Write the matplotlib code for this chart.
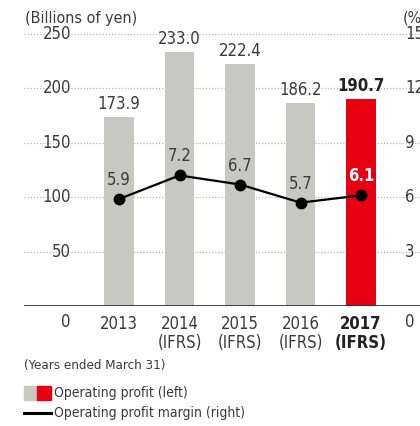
import numpy as np
import matplotlib.pyplot as plt
from matplotlib.patches import Rectangle
from matplotlib.lines import Line2D

# data
years = ["2013", "2014\n(IFRS)", "2015\n(IFRS)", "2016\n(IFRS)", "2017\n(IFRS)"]
profit = [173.9, 233.0, 222.4, 186.2, 190.7]
margin = [5.9, 7.2, 6.7, 5.7, 6.1]
left_ticks = [0, 50, 100, 150, 200, 250]
right_ticks = [0, 3, 6, 9, 12, 15]

GRAY = "#c8c8c3"
RED = "#e60012"
TXT = "#3a3a3a"

plt.rcParams['font.family'] = ['DejaVu Sans']
plt.rcParams['font.stretch'] = 'condensed'

W, H = 420, 426
fig = plt.figure(figsize=(W / 100, H / 100), dpi=100)


def px(x, y):
    # pixel (from top-left) -> figure fraction
    return x / W, 1 - y / H


# axes: left edge at px 24, bottom at y=306 (0), top at y=34 (250)
ax_l, ax_b = px(24, 306)
ax_r, ax_t = px(420, 34)
ax = fig.add_axes([ax_l, ax_b, ax_r - ax_l, ax_t - ax_b])
ax.set_ylim(0, 250)
x = np.arange(len(years))
# bar centre spacing ~60.5 px, first bar at px 119
ax.set_xlim((24 - 119) / 60.5, (420 - 119) / 60.5)
ax.axis("off")

# gridlines
for t in left_ticks[1:]:
    ax.axhline(t, color="#b5b5b5", lw=0.9, ls=(0, (1, 1.5)), zorder=0, clip_on=False)
ax.axhline(0, color="#333333", lw=1.3, zorder=3)

colors = [GRAY] * (len(profit) - 1) + [RED]
ax.bar(x, profit, width=0.48, color=colors, zorder=2)

# bar labels
for i, v in enumerate(profit):
    last = i == len(profit) - 1
    ax.annotate(f"{v:.1f}", (x[i], v), xytext=(0, 4), textcoords="offset pixels",
                ha="center", va="bottom", fontsize=12, color="#222222" if last else TXT,
                fontweight="bold" if last else "normal")

# margin line, right scale 0-15 mapped onto 0-250
scale = 250 / 15
my = [m * scale for m in margin]
ax.plot(x, my, color="black", lw=1.6, marker="o", markersize=7.5, zorder=4)
for i, m in enumerate(margin):
    last = i == len(margin) - 1
    ax.annotate(f"{m:.1f}", (x[i], my[i]), xytext=(0, 10), textcoords="offset pixels",
                ha="center", va="bottom", fontsize=12, color="white" if last else TXT,
                fontweight="bold" if last else "normal", zorder=5)

# left and right tick labels (zero sits on the year-label row)
for lt, rt in zip(left_ticks, right_ticks):
    ly = ax_b + (lt / 250) * (ax_t - ax_b) if lt else px(0, 322)[1]
    fig.text(px(71, 0)[0], ly, str(lt), ha="right", va="center", fontsize=12, color=TXT)
    fig.text(px(405, 0)[0], ly, str(rt), ha="left", va="center", fontsize=12, color=TXT)

# x tick labels
for i, lab in enumerate(years):
    last = i == len(years) - 1
    ax.annotate(lab, (x[i], 0), xytext=(0, -9), textcoords="offset pixels",
                ha="center", va="top", fontsize=12, linespacing=1.05,
                color="#222222" if last else TXT,
                fontweight="bold" if last else "normal", annotation_clip=False)

# units
fig.text(*px(25, 18), "(Billions of yen)", ha="left", va="center", fontsize=11.5, color=TXT)
fig.text(*px(403, 18), "(%)", ha="left", va="center", fontsize=11.5, color=TXT)
fig.text(*px(24, 366), "(Years ended March 31)", ha="left", va="center", fontsize=9.5, color=TXT)

# legend
fig.patches.append(Rectangle(px(24, 400), 13 / W, 14 / H, color=GRAY, transform=fig.transFigure))
fig.patches.append(Rectangle(px(37, 400), 14 / W, 14 / H, color=RED, transform=fig.transFigure))
fig.text(*px(54, 393), "Operating profit (left)", ha="left", va="center", fontsize=10, color=TXT)
fig.lines.append(Line2D([24 / W, 51 / W], [1 - 413 / H] * 2, color="black", lw=2.2,
                        transform=fig.transFigure))
fig.text(*px(54, 413), "Operating profit margin (right)", ha="left", va="center", fontsize=10, color=TXT)

fig.savefig("out.png", dpi=100)
